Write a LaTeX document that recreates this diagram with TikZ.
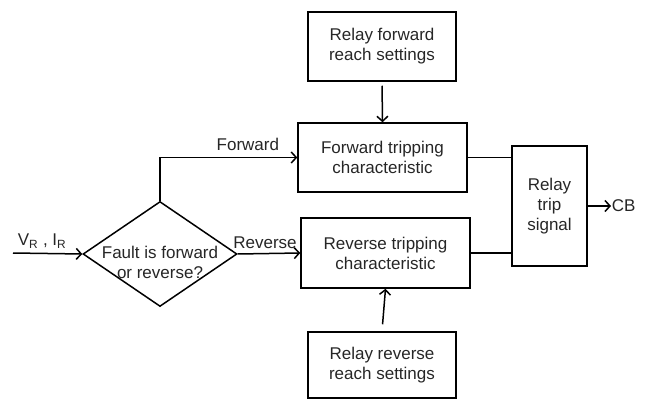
\documentclass[tikz,border=0pt]{standalone}
\usepackage{fontspec}
\setmainfont{Liberation Sans}
\usetikzlibrary{shapes.geometric,arrows.meta}
\begin{document}
\begin{tikzpicture}[x=1pt,y=1pt,line width=1.5pt,
    font=\fontsize{17}{20}\selectfont,
    every node/.style={text=black!85},
    blk/.style={draw=black,rectangle,align=center,inner sep=0pt},
    decision/.style={draw=black,diamond,inner sep=0pt,minimum width=154pt,minimum height=105pt},
    flow/.style={-{Straight Barb[length=5pt,width=11pt]}}]
  \useasboundingbox (0,0) rectangle (646,400);
  \draw
    (382,353.5) node[blk,minimum width=148pt,minimum height=69pt] (fwdset){Relay forward\\reach settings}
    (382.5,242.5) node[blk,minimum width=169pt,minimum height=69pt] (fwdtrip){Forward tripping\\characteristic}
    (385.5,147) node[blk,minimum width=169pt,minimum height=70pt] (revtrip){Reverse tripping\\characteristic}
    (382,35) node[blk,minimum width=148pt,minimum height=66pt] (revset){Relay reverse\\reach settings}
    (549.5,194) node[blk,minimum width=75pt,minimum height=120pt] (trip){Relay\\trip\\signal}
    (160,146) node[decision,label={[align=center,yshift=-8pt]center:Fault is forward\\or reverse?}] (fault){}
    (611,194) node[anchor=west,inner sep=0pt] (cb){CB};
  \coordinate (vin) at (13,147);
  \begin{scope}[flow]
    \draw (vin) -- node[above=1pt,pos=0.42]{V\textsubscript{R} , I\textsubscript{R}} (fault.west);
    \draw (fault.north) |- node[above=3pt,pos=0.82]{Forward} (fwdtrip.west);
    \draw (fault.east) -- node[above=1pt,xshift=-4pt]{Reverse} (revtrip.west);
    \draw[shorten <=4pt] (fwdset.south) -- (fwdtrip.north);
    \draw[shorten <=7pt] (revset.north) -- (revtrip.south);
    \draw (trip.east) -- (cb.west);
  \end{scope}
  \begin{scope}[-]
    \draw (fwdtrip.east) -- (fwdtrip.east -| trip.west);
    \draw (revtrip.east) -- (revtrip.east -| trip.west);
  \end{scope}
\end{tikzpicture}
\end{document}
